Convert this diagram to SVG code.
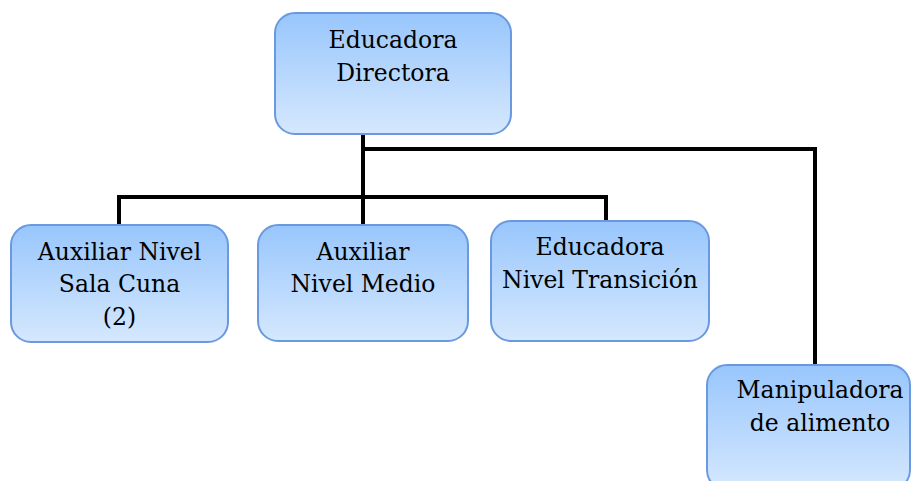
<svg xmlns="http://www.w3.org/2000/svg" width="912" height="481" viewBox="0 0 912 481">
  <defs>
    <linearGradient id="boxFill" x1="0" y1="0" x2="0" y2="1">
      <stop offset="0" stop-color="#98c6fc"/>
      <stop offset="1" stop-color="#d5e8fe"/>
    </linearGradient>
    <style>
      .box { fill: url(#boxFill); stroke: #6b99df; stroke-width: 2; }
      text { font-family: 'DejaVu Serif', serif; font-size: 23.5px; fill: #000; text-anchor: middle; }
      .link { fill: none; stroke: #000; stroke-width: 4; stroke-linejoin: miter; stroke-linecap: butt; }
    </style>
  </defs>
  <rect width="912" height="481" fill="#ffffff"/>

  <!-- connectors -->
  <g id="connectors">
    <path class="link" d="M363,134 V225"/>
    <path class="link" d="M363,149 H815 V365"/>
    <path class="link" d="M119,225 V197 H606 V221"/>
  </g>

  <g id="directora">
    <rect class="box" x="275" y="13" width="236" height="121" rx="20"/>
    <text x="393" y="48">Educadora</text>
    <text x="393" y="81">Directora</text>
  </g>

  <g id="sala-cuna">
    <rect class="box" x="11" y="225" width="217" height="117" rx="20"/>
    <text x="119.5" y="260">Auxiliar Nivel</text>
    <text x="119.5" y="292">Sala Cuna</text>
    <text x="119.5" y="325">(2)</text>
  </g>

  <g id="nivel-medio">
    <rect class="box" x="258" y="225" width="210" height="116" rx="20"/>
    <text x="363" y="260">Auxiliar</text>
    <text x="363" y="292">Nivel Medio</text>
  </g>

  <g id="nivel-transicion">
    <rect class="box" x="491" y="221" width="218" height="120" rx="20"/>
    <text x="600" y="255">Educadora</text>
    <text x="600" y="288">Nivel Transición</text>
  </g>

  <g id="manipuladora">
    <rect class="box" x="707" y="365" width="203" height="125" rx="20"/>
    <text x="820" y="398">Manipuladora</text>
    <text x="820" y="431">de alimento</text>
  </g>
</svg>
